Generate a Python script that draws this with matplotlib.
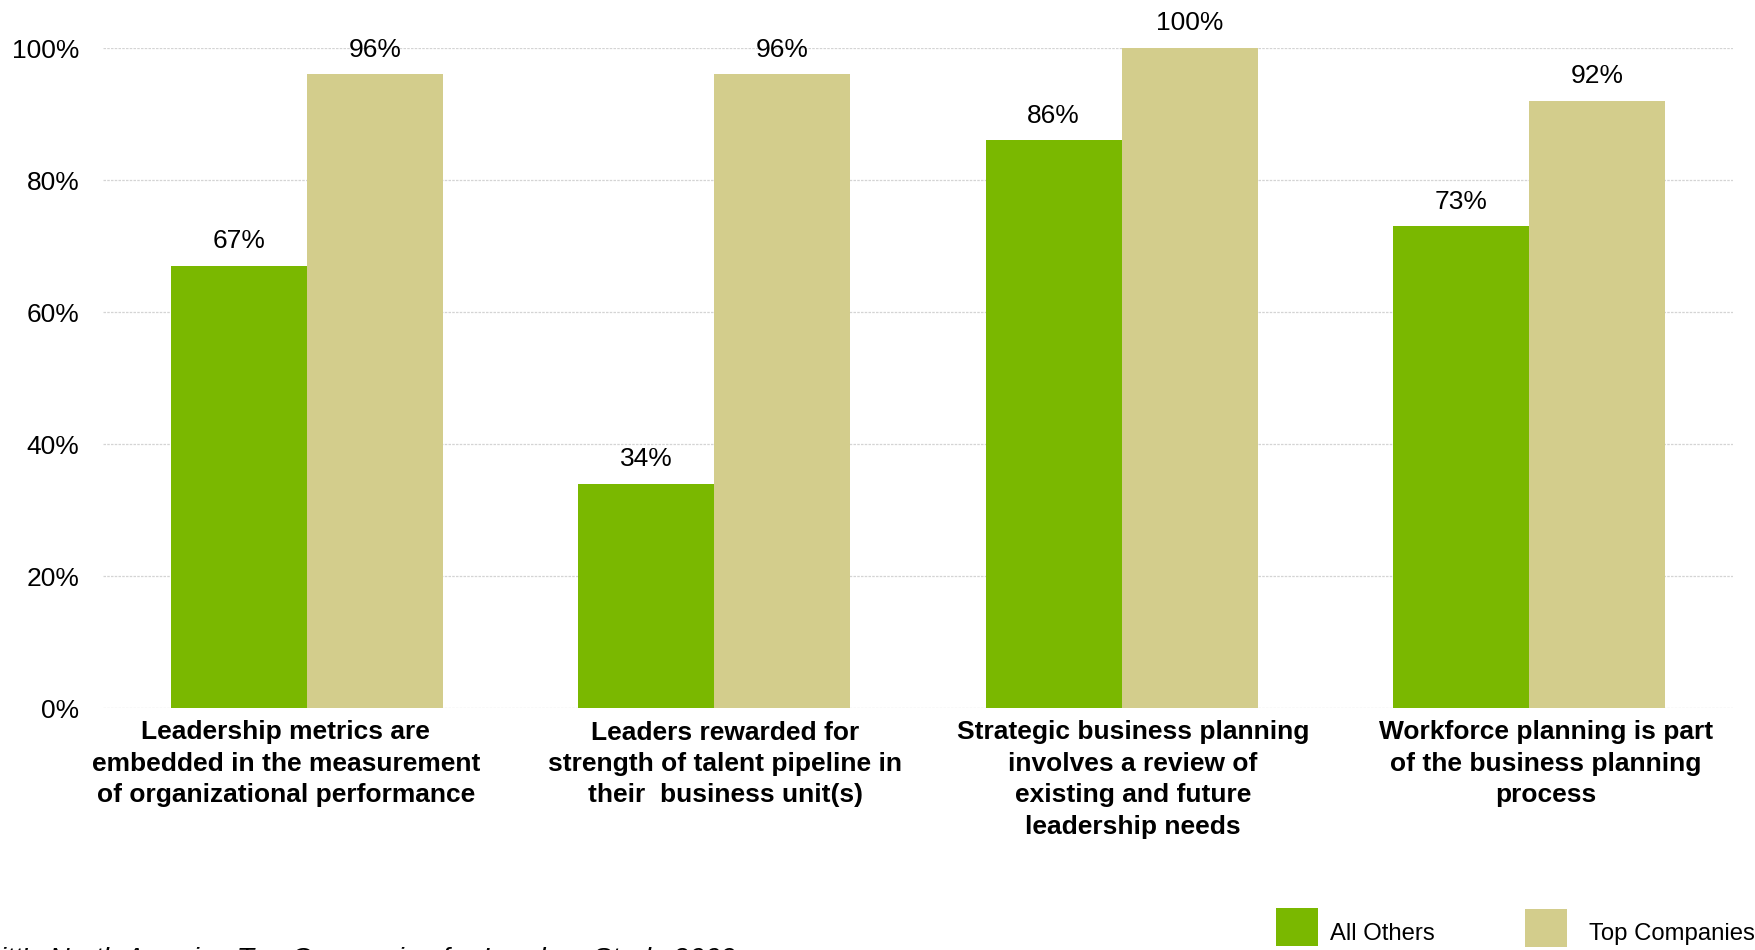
import matplotlib
matplotlib.use("Agg")
import matplotlib.pyplot as plt
import numpy as np
from matplotlib.patches import Rectangle

plt.rcParams['font.family'] = ['Liberation Sans', 'DejaVu Sans']

categories = [
    "Leadership metrics are\nembedded in the measurement\nof organizational performance",
    "Leaders rewarded for\nstrength of talent pipeline in\ntheir  business unit(s)",
    "Strategic business planning\ninvolves a review of\nexisting and future\nleadership needs",
    "Workforce planning is part\nof the business planning\nprocess",
]
all_others = [67, 34, 86, 73]
top_companies = [96, 96, 100, 92]
series_names = ["All Others", "Top Companies"]
yticks = [0, 20, 40, 60, 80, 100]
source_note = "Source: Hewitt's North America Top Companies for Leaders Study 2009"

GREEN = "#7AB800"
BEIGE = "#D3CD8C"
W, H = 1756, 950

fig = plt.figure(figsize=(W / 100, H / 100), dpi=100)
ax = fig.add_axes([103 / W, 1 - 708 / H, (1733 - 103) / W, (708 - 48) / H])

x = np.arange(len(categories))
w = 0.334
b1 = ax.bar(x - w / 2, all_others, width=w, color=GREEN, zorder=2)
b2 = ax.bar(x + w / 2, top_companies, width=w, color=BEIGE, zorder=2)

for bars, vals in ((b1, all_others), (b2, top_companies)):
    for rect, v in zip(bars, vals):
        ax.annotate(f"{v}%", (rect.get_x() + rect.get_width() / 2, v),
                    xytext=(0, 9), textcoords="offset points",
                    ha="center", va="bottom", fontsize=19, color="black")

ax.set_xlim(-0.5, 3.5)
ax.set_ylim(0, 100)
ax.set_yticks(yticks)
ax.set_yticklabels([f"{t}%" for t in yticks], fontsize=19)
ax.set_xticks(x)
ax.set_xticklabels([])
ax.tick_params(axis="both", length=0)
ax.tick_params(axis="y", pad=17)

# category captions under each group, nudged sideways a little (points)
caption_nudge = [-15, 8, 8, 12]
for xi, label, dx in zip(x, categories, caption_nudge):
    ax.annotate(label, (xi, 0), xycoords=("data", "axes fraction"),
                xytext=(dx, -9), textcoords="offset points",
                ha="center", va="top", multialignment="center",
                fontsize=19, fontweight="bold", linespacing=1.39,
                annotation_clip=False)

for s in ax.spines.values():
    s.set_visible(False)
ax.yaxis.grid(True, color="#d4d4d4", linewidth=0.9, linestyle=(0, (2, 1)), zorder=0)
ax.set_axisbelow(True)

# legend row along the bottom edge
legend_items = [(GREEN, 1276, 908, 1330), (BEIGE, 1525, 909, 1589)]
for (color, px, py, tx), name in zip(legend_items, series_names):
    fig.add_artist(Rectangle((px / W, 1 - (py + 38) / H), 42 / W, 38 / H,
                             transform=fig.transFigure, facecolor=color,
                             edgecolor="none"))
    fig.text(tx / W, 1 - 940 / H, name, ha="left", va="baseline",
             fontsize=17.2, color="black")

fig.text(736 / W, 1 - 947 / H, source_note, ha="right", va="top",
         fontsize=20.3, style="italic", color="black")

fig.savefig("out.png", dpi=100)
